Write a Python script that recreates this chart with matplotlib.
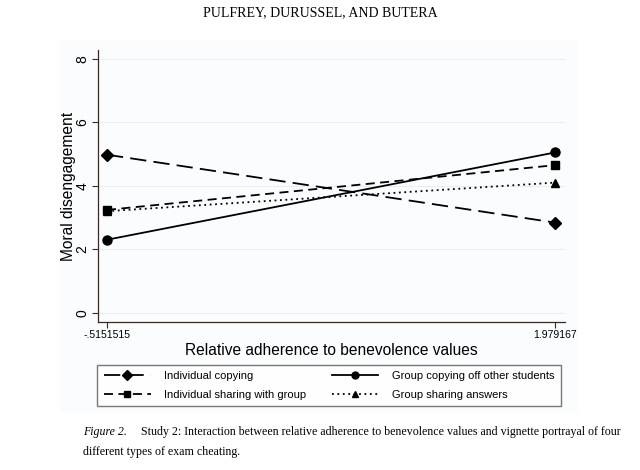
import matplotlib.pyplot as plt
from matplotlib.patches import Rectangle

x_vals = [-0.5151515, 1.979167]
x_labels = ['-.5151515', '1.979167']

ind_copying = [4.98, 2.84]
grp_copying = [2.30, 5.05]
ind_sharing = [3.24, 4.65]
grp_sharing = [3.20, 4.10]

y_ticks = [0, 2, 4, 6, 8]

caption_1 = 'Study 2: Interaction between relative adherence to benevolence values and vignette portrayal of four'
caption_2 = 'different types of exam cheating.'

plt.rcParams['font.family'] = ['Liberation Sans', 'DejaVu Sans']

fig = plt.figure(figsize=(6.4, 4.7), dpi=100)
fig.patch.set_facecolor('white')

# stata graph region
fig.patches.append(Rectangle((60 / 640, 1 - 412 / 470), 518 / 640, 372 / 470,
                             transform=fig.transFigure, facecolor='#fbfcfd',
                             edgecolor='none', zorder=-1))

ax = fig.add_axes([98 / 640, 1 - 322 / 470, 467 / 640, 272 / 470])
ax.set_facecolor('#fbfcfd')

dark = '#3a2a26'
l1, = ax.plot(x_vals, ind_copying, color='black', lw=1.3, dashes=(9, 4),
              marker='D', ms=6)
l2, = ax.plot(x_vals, grp_copying, color='black', lw=1.3, linestyle='-',
              marker='o', ms=6.5)
l3, = ax.plot(x_vals, ind_sharing, color='black', lw=1.3, dashes=(5, 3),
              marker='s', ms=6)
l4, = ax.plot(x_vals, grp_sharing, color='black', lw=1.3, dashes=(1, 2),
              marker='^', ms=6)

ax.set_xlim(-0.5653, 2.0348)
ax.set_ylim(-0.293, 8.28)
ax.set_yticks(y_ticks)
ax.set_xticks(x_vals)
ax.set_xticklabels(x_labels, fontsize=7.5)
ax.set_yticklabels([str(t) for t in y_ticks], fontsize=10, rotation=90, va='center')
for t in y_ticks:
    ax.axhline(t, color='#e6eff1', lw=0.8, zorder=0)

for s in ['top', 'right']:
    ax.spines[s].set_visible(False)
for s in ['left', 'bottom']:
    ax.spines[s].set_color(dark)
    ax.spines[s].set_linewidth(0.9)
ax.tick_params(direction='out', length=4, width=0.8, color=dark, pad=2)

ax.set_ylabel('Moral disengagement', fontsize=11.2, labelpad=-0.5)
ax.set_xlabel('Relative adherence to benevolence values', fontsize=11.2, labelpad=2)

leg = fig.legend([l1, l3, l2, l4],
                 ['Individual copying', 'Individual sharing with group',
                  'Group copying off other students', 'Group sharing answers'],
                 ncol=2, loc='center', bbox_to_anchor=(329 / 640, 1 - 385.5 / 470),
                 fontsize=8, frameon=True, fancybox=False, handlelength=4.2,
                 columnspacing=2.3, borderpad=0.6, labelspacing=0.75,
                 handletextpad=1.2)
leg.get_frame().set_edgecolor('#555555')
leg.get_frame().set_linewidth(1.0)
for h in leg.legend_handles:
    h.set_markersize(5)

fig.text(0.5, 1 - 13 / 470, 'PULFREY, DURUSSEL, AND BUTERA', ha='center', va='center',
         fontsize=10, family='Liberation Serif')
t0 = fig.text(83 / 640, 1 - 432 / 470, 'Figure 2.', ha='left', va='center', fontsize=10,
              family='Liberation Serif', style='italic')
t1 = fig.text(138 / 640, 1 - 432 / 470, caption_1, ha='left', va='center', fontsize=10,
              family='Liberation Serif')
t2 = fig.text(83 / 640, 1 - 452 / 470, caption_2, ha='left', va='center', fontsize=10,
              family='Liberation Serif')

# one caption size, chosen so the first line runs from x=83 to x=620
renderer = fig.canvas.get_renderer()
w0 = t0.get_window_extent(renderer).width
w1 = t1.get_window_extent(renderer).width
gap = 1.2 * 10 * 100 / 72
size = 10 * 537 / (w0 + gap + w1)
for t in (t0, t1, t2):
    t.set_fontsize(size)
w0 = t0.get_window_extent(renderer).width
t1.set_x((83 + w0 + 1.2 * size * 100 / 72) / 640)

fig.savefig('out.png', dpi=100)
